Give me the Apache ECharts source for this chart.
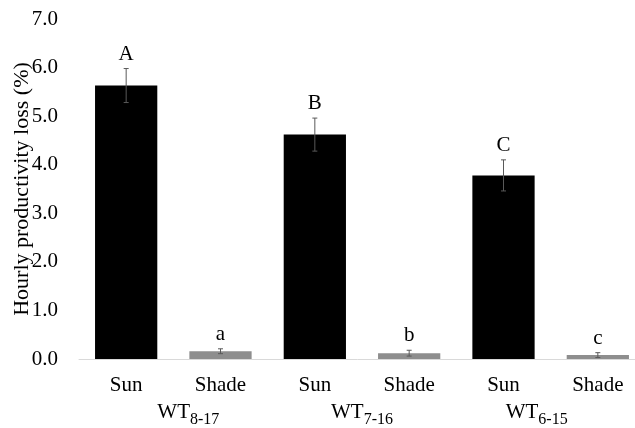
<!DOCTYPE html>
<html><head><meta charset="utf-8">
<script src="https://cdn.jsdelivr.net/npm/echarts@6/dist/echarts.min.js"></script>
<style>html,body{margin:0;padding:0;background:#fff}#c{width:635px;height:428px}</style>
</head><body><div id="c"></div>
<script>
var categories = ['Sun','Shade','Sun','Shade','Sun','Shade'];
var groupNames = ['8-17','7-16','6-15'];
var means = [5.63, 0.16, 4.62, 0.12, 3.78, 0.08];
var errors = [0.35, 0.05, 0.34, 0.06, 0.32, 0.05];
var letters = ['A','a','B','b','C','c'];
var yTicks = [0,1,2,3,4,5,6,7];

var FONT = 'Liberation Serif';
var chart = echarts.init(document.getElementById('c'));
var errData = means.map(function(m,i){return [i, m-errors[i], m+errors[i], letters[i]];});
var groupPads = [[0,0,0,30],[0,0,0,0],[0,28,0,0]];

chart.setOption({
  animation:false,
  grid:{left:79, top:19, width:566, height:340, outerBoundsMode:'none', containLabel:false},
  xAxis:[{
    type:'category', data:categories, position:'bottom',
    axisLine:{lineStyle:{color:'#d9d9d9', width:1}},
    axisTick:{show:false},
    axisLabel:{fontFamily:FONT, fontSize:21, color:'#000', margin:16}
  },{
    type:'category', position:'bottom', gridIndex:0,
    data:groupNames.map(function(g,i){return {value:g, textStyle:{padding:groupPads[i]}};}),
    axisLine:{show:false}, axisTick:{show:false},
    axisLabel:{margin:42, formatter:function(v){return '{a|WT}{b|'+v+'}';},
      rich:{a:{fontFamily:FONT, fontSize:21, color:'#000', lineHeight:22, verticalAlign:'bottom'},
            b:{fontFamily:FONT, fontSize:16, color:'#000', lineHeight:22, verticalAlign:'bottom', padding:[0,0,-5,0]}}}
  }],
  yAxis:{
    type:'value', min:0, max:7, interval:1,
    axisLine:{show:false}, axisTick:{show:false}, splitLine:{show:false},
    axisLabel:{fontFamily:FONT, fontSize:21, color:'#000', margin:21, formatter:function(v){return v.toFixed(1);}},
    name:'Hourly productivity loss (%)', nameLocation:'middle', nameGap:46, nameMoveOverlap:false,
    nameTextStyle:{fontFamily:FONT, fontSize:22, color:'#000'}
  },
  series:[{
    type:'bar', data:means, barWidth:'66%', xAxisIndex:0,
    itemStyle:{color:function(p){return p.dataIndex%2===0?'#000000':'#8e8e8e';}}
  },{
    type:'custom', xAxisIndex:0, data:errData, z:10,
    renderItem:function(params, api){
      var x = api.value(0);
      var lo = api.coord([x, api.value(1)]);
      var hi = api.coord([x, api.value(2)]);
      var c = 2.5;
      var st = {stroke:'#595959', lineWidth:1};
      return {type:'group', children:[
        {type:'line', shape:{x1:hi[0],y1:hi[1],x2:lo[0],y2:lo[1]}, style:st},
        {type:'line', shape:{x1:hi[0]-c,y1:hi[1],x2:hi[0]+c,y2:hi[1]}, style:st},
        {type:'line', shape:{x1:lo[0]-c,y1:lo[1],x2:lo[0]+c,y2:lo[1]}, style:st},
        {type:'text', style:{text:api.value(3), x:hi[0], y:hi[1]-4, align:'center', verticalAlign:'bottom',
          fontFamily:FONT, fontSize:21, fill:'#000'}}
      ]};
    }
  }]
});
</script></body></html>
